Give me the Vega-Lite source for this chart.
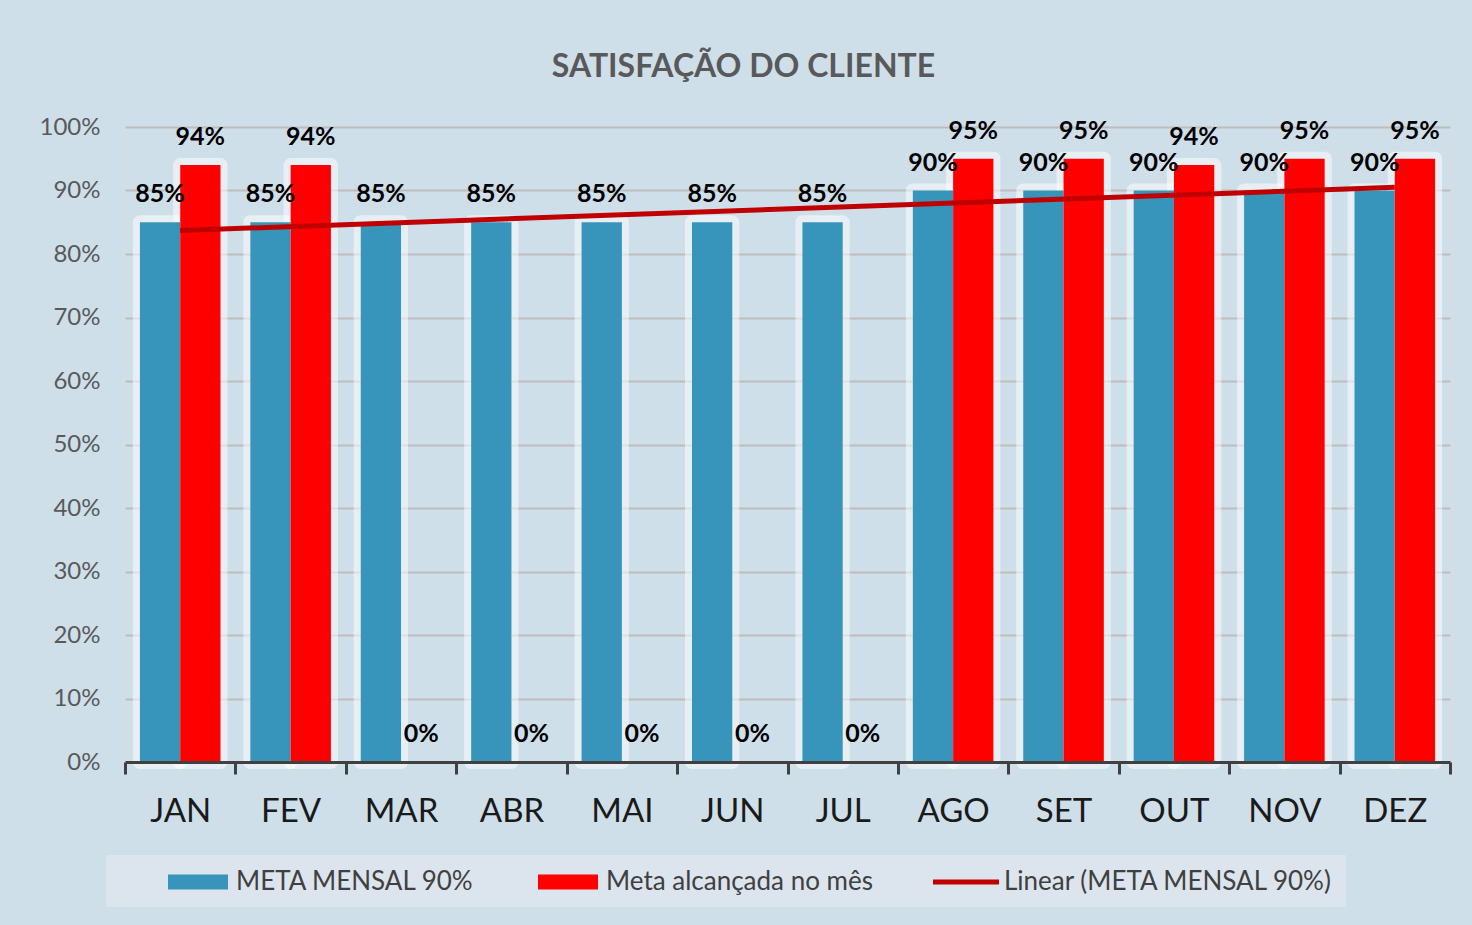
{
  "$schema": "https://vega.github.io/schema/vega-lite/v6.json",
  "width": 1325,
  "height": 635,
  "autosize": {"type": "none"},
  "padding": {"left": 125, "top": 127, "right": 22, "bottom": 163},
  "background": "#CFDFEA",
  "title": {"text": "SATISFAÇÃO DO CLIENTE", "font": "Lato", "fontSize": 32, "fontWeight": "bold", "color": "#595959", "anchor": "middle", "dx": -44, "offset": 31},
  "datasets": {
    "barras": [
      {"mes": "JAN", "serie": "META MENSAL 90%", "valor": 0.85},
      {"mes": "JAN", "serie": "Meta alcançada no mês", "valor": 0.94},
      {"mes": "FEV", "serie": "META MENSAL 90%", "valor": 0.85},
      {"mes": "FEV", "serie": "Meta alcançada no mês", "valor": 0.94},
      {"mes": "MAR", "serie": "META MENSAL 90%", "valor": 0.85},
      {"mes": "MAR", "serie": "Meta alcançada no mês", "valor": 0},
      {"mes": "ABR", "serie": "META MENSAL 90%", "valor": 0.85},
      {"mes": "ABR", "serie": "Meta alcançada no mês", "valor": 0},
      {"mes": "MAI", "serie": "META MENSAL 90%", "valor": 0.85},
      {"mes": "MAI", "serie": "Meta alcançada no mês", "valor": 0},
      {"mes": "JUN", "serie": "META MENSAL 90%", "valor": 0.85},
      {"mes": "JUN", "serie": "Meta alcançada no mês", "valor": 0},
      {"mes": "JUL", "serie": "META MENSAL 90%", "valor": 0.85},
      {"mes": "JUL", "serie": "Meta alcançada no mês", "valor": 0},
      {"mes": "AGO", "serie": "META MENSAL 90%", "valor": 0.90},
      {"mes": "AGO", "serie": "Meta alcançada no mês", "valor": 0.95},
      {"mes": "SET", "serie": "META MENSAL 90%", "valor": 0.90},
      {"mes": "SET", "serie": "Meta alcançada no mês", "valor": 0.95},
      {"mes": "OUT", "serie": "META MENSAL 90%", "valor": 0.90},
      {"mes": "OUT", "serie": "Meta alcançada no mês", "valor": 0.94},
      {"mes": "NOV", "serie": "META MENSAL 90%", "valor": 0.90},
      {"mes": "NOV", "serie": "Meta alcançada no mês", "valor": 0.95},
      {"mes": "DEZ", "serie": "META MENSAL 90%", "valor": 0.90},
      {"mes": "DEZ", "serie": "Meta alcançada no mês", "valor": 0.95}
    ],
    "tendencia": [
      {"mes": "JAN", "valor": 0.837},
      {"mes": "DEZ", "valor": 0.905}
    ]
  },
  "encoding": {
    "x": {
      "field": "mes", "type": "nominal",
      "sort": ["JAN", "FEV", "MAR", "ABR", "MAI", "JUN", "JUL", "AGO", "SET", "OUT", "NOV", "DEZ"],
      "scale": {"paddingInner": 0, "paddingOuter": 0},
      "axis": {"title": null, "labelAngle": 0, "zindex": 1, "domainColor": "#404040", "domainWidth": 3, "tickColor": "#404040", "tickWidth": 3, "tickSize": 12, "tickBand": "extent", "labelFont": "Lato", "labelFontSize": 33, "labelColor": "#1a1a1a", "labelPadding": 21, "grid": false}
    },
    "y": {
      "field": "valor", "type": "quantitative",
      "scale": {"domain": [0, 1], "nice": false},
      "axis": {"title": null, "values": [0, 0.1, 0.2, 0.3, 0.4, 0.5, 0.6, 0.7, 0.8, 0.9, 1], "format": ".0%", "domain": false, "ticks": false, "labelPadding": 25, "labelFont": "Lato", "labelFontSize": 24, "labelColor": "#595959", "gridColor": "#BDBDBD", "gridWidth": 2}
    }
  },
  "layer": [
    {
      "data": {"name": "barras"},
      "transform": [{"filter": "datum.valor > 0"}],
      "mark": {"type": "bar", "fill": "white", "fillOpacity": 0.3, "stroke": "white", "strokeWidth": 14, "strokeOpacity": 0.5, "strokeJoin": "round"},
      "encoding": {
        "xOffset": {"field": "serie", "sort": ["META MENSAL 90%", "Meta alcançada no mês"], "scale": {"paddingInner": 0, "paddingOuter": 0.37}}
      }
    },
    {
      "data": {"name": "barras"},
      "mark": {"type": "bar"},
      "encoding": {
        "xOffset": {"field": "serie", "sort": ["META MENSAL 90%", "Meta alcançada no mês"]},
        "color": {
          "field": "serie", "type": "nominal",
          "scale": {"domain": ["META MENSAL 90%", "Meta alcançada no mês", "Linear (META MENSAL 90%)"], "range": ["#3794BA", "#FF0000", "#C00000"]},
          "legend": {
            "orient": "none", "legendX": -19, "legendY": 728, "direction": "horizontal", "title": null,
            "fillColor": "#DCE5ED", "padding": 12, "symbolOffset": 65, "columnPadding": 13,
            "labelFont": "Lato", "labelFontSize": 26, "labelColor": "#404040", "labelOffset": 23, "labelLimit": 500,
            "symbolType": "M-2,-0.5H2V0.5H-2Z", "symbolSize": 900, "symbolStrokeWidth": 0, "symbolOpacity": 1,
            "encode": {"symbols": {"update": {"shape": [{"test": "datum.value === 'Linear (META MENSAL 90%)'", "value": "M-2.2,-0.17H2.2V0.17H-2.2Z"}, {"value": "M-2,-0.5H2V0.5H-2Z"}]}}}
          }
        }
      }
    },
    {
      "data": {"name": "tendencia"},
      "mark": {"type": "line", "strokeWidth": 5},
      "encoding": {
        "color": {"datum": "Linear (META MENSAL 90%)", "type": "nominal"}
      }
    },
    {
      "data": {"name": "barras"},
      "mark": {"type": "text", "font": "Lato", "fontSize": 25, "fontWeight": "bold", "color": "#000000", "baseline": "alphabetic", "dy": -20},
      "encoding": {
        "xOffset": {"field": "serie", "sort": ["META MENSAL 90%", "Meta alcançada no mês"]},
        "text": {"field": "valor", "type": "quantitative", "format": ".0%"}
      }
    }
  ]
}
